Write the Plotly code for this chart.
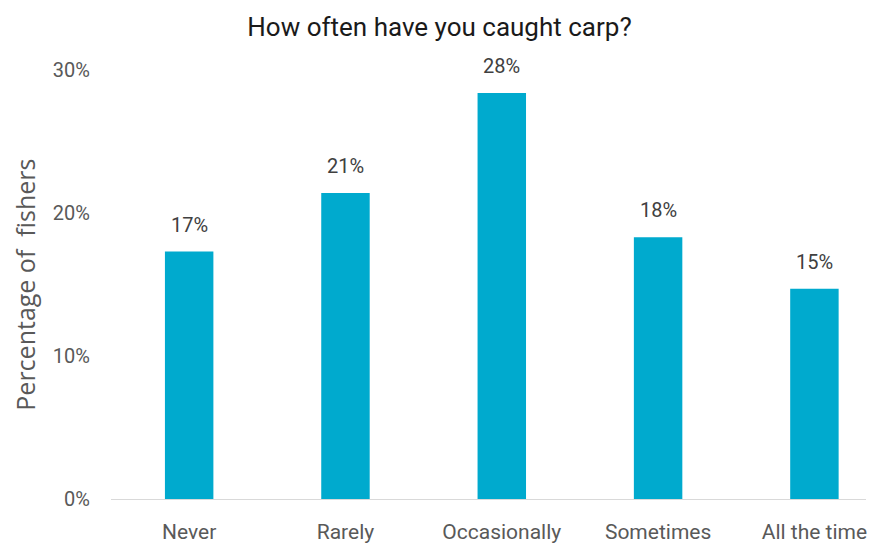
import plotly.graph_objects as go

# Survey responses: share of fishers by how often they have caught carp
categories = ["Never", "Rarely", "Occasionally", "Sometimes", "All the time"]
shares = [0.173, 0.214, 0.284, 0.183, 0.147]
tick_values = [0, 0.10, 0.20, 0.30]
tick_labels = ["0%", "10%", "20%", "30%"]

BAR_COLOR = "#00AACE"
LABEL_FONT = "Roboto, Liberation Sans, sans-serif"

fig = go.Figure(
    go.Bar(
        x=categories,
        y=shares,
        width=0.31,
        marker=dict(color=BAR_COLOR, line=dict(width=0)),
        hoverinfo="skip",
    )
)

# Value labels floating above each bar
for cat, val in zip(categories, shares):
    fig.add_annotation(
        x=cat,
        y=val,
        text=f"{val:.0%}",
        showarrow=False,
        yanchor="middle",
        yshift=27,
        font=dict(family=LABEL_FONT, size=20, color="#404040"),
    )

fig.update_layout(
    width=879,
    height=544,
    margin=dict(l=111, r=13, t=70, b=45, autoexpand=False),
    paper_bgcolor="white",
    plot_bgcolor="white",
    showlegend=False,
    title=dict(
        text="How often have you caught carp?",
        x=0.5,
        xref="container",
        xanchor="center",
        y=1 - 27 / 544,
        yref="container",
        yanchor="middle",
        font=dict(family=LABEL_FONT, size=26, color="#1a1a1a"),
    ),
)

fig.update_xaxes(
    range=[-0.5, 4.33],
    automargin=False,
    showline=True,
    linecolor="#d9d9d9",
    linewidth=1,
    showgrid=False,
    ticks="",
    ticklabelstandoff=14,
    tickfont=dict(family=LABEL_FONT, size=21, color="#595959"),
)

fig.update_yaxes(
    range=[0, 0.30],
    automargin=False,
    tickvals=tick_values,
    ticktext=tick_labels,
    showgrid=False,
    zeroline=False,
    showline=False,
    ticks="",
    ticklabelstandoff=20,
    tickfont=dict(family=LABEL_FONT, size=20, color="#595959"),
)

fig.add_annotation(
    text="Percentage of  fishers",
    xref="paper",
    yref="paper",
    x=-0.115,
    y=0.5,
    xanchor="center",
    yanchor="middle",
    textangle=-90,
    showarrow=False,
    font=dict(family="Open Sans, Noto Sans, sans-serif", size=25, color="#595959"),
)

fig.write_html("out.html")
